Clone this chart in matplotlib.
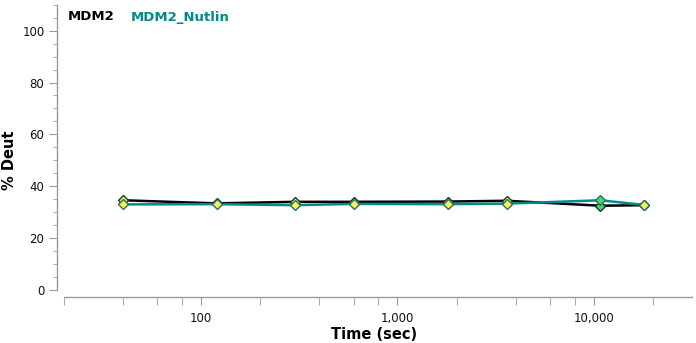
import matplotlib
matplotlib.use("Agg")
import matplotlib.pyplot as plt
from matplotlib.ticker import FixedLocator, FuncFormatter, NullFormatter

times = [40, 120, 300, 600, 1800, 3600, 10800, 18000]
mdm2 = [34.6, 33.4, 34.0, 34.0, 34.1, 34.4, 32.5, 32.7]
nutlin = [33.0, 33.1, 32.7, 33.2, 33.1, 33.3, 34.6, 32.8]
mdm2_fill = ["#e8f060", "#e8f060", "#e8f060", "#e8f060", "#e8f060", "#e8f060", "#50d070", "#e8f060"]
nutlin_fill = ["#f4f45a", "#f4f45a", "#f4f45a", "#f4f45a", "#f4f45a", "#f4f45a", "#50d070", "#f4f45a"]
series_names = ["MDM2", "MDM2_Nutlin"]
x_major = [100, 1000, 10000]
x_minor = [20, 40, 60, 80, 200, 400, 600, 800, 2000, 4000, 6000, 8000, 20000]

fig = plt.figure(figsize=(6.96, 3.43), dpi=100)
ax = fig.add_axes([57/696, 1-297/343, (692-57)/696, (297-4.7)/343])
ax.set_xscale("log")
ax.set_xlim(18.5, 31600)
ax.set_ylim(-2.7, 110)

ax.plot(times, mdm2, color="black", lw=1.8, zorder=2)
ax.plot(times, nutlin, color="#008b8b", lw=1.8, zorder=3)
for t, v, f in zip(times, mdm2, mdm2_fill):
    ax.plot(t, v, marker="D", ms=5, mfc=f, mec="#1a3a2a", mew=1.0, zorder=4, ls="none")
for t, v, f in zip(times, nutlin, nutlin_fill):
    ax.plot(t, v, marker="D", ms=5, mfc=f, mec="#2a7060", mew=1.0, zorder=5, ls="none")

for s in ["top", "right"]:
    ax.spines[s].set_visible(False)
ax.spines["left"].set_bounds(0, 110)
ax.spines["bottom"].set_bounds(20, 31600)
for s in ["left", "bottom"]:
    ax.spines[s].set_color("#999999")
    ax.spines[s].set_linewidth(1.0)

ax.yaxis.set_major_locator(FixedLocator([0, 20, 40, 60, 80, 100]))
ax.yaxis.set_minor_locator(FixedLocator([v for v in range(5, 111, 5) if v % 20 != 0]))
ax.xaxis.set_major_locator(FixedLocator(x_major))
ax.xaxis.set_minor_locator(FixedLocator(x_minor))
ax.xaxis.set_major_formatter(FuncFormatter(lambda v, p: f"{int(v):,}"))
ax.xaxis.set_minor_formatter(NullFormatter())
ax.tick_params(axis="both", which="both", direction="out", color="#999999", labelsize=8.5, labelcolor="#111111")
ax.tick_params(axis="y", which="major", length=6, pad=3)
ax.tick_params(axis="y", which="minor", length=3)
ax.tick_params(axis="x", which="both", length=6, pad=5)

ax.set_xlabel("Time (sec)", fontsize=10.5, fontweight="bold", labelpad=1)
ax.set_ylabel("% Deut", fontsize=10.5, fontweight="bold")
ax.yaxis.set_label_coords((17-57)/635, (297-160)/292.3)

fig.text(68/696, 1-17/343, series_names[0], color="black", fontsize=9.5, fontweight="bold", va="center", ha="left")
fig.text(131/696, 1-17/343, series_names[1], color="#008b8b", fontsize=9.5, fontweight="bold", va="center", ha="left")

fig.savefig("out.png", dpi=100)
